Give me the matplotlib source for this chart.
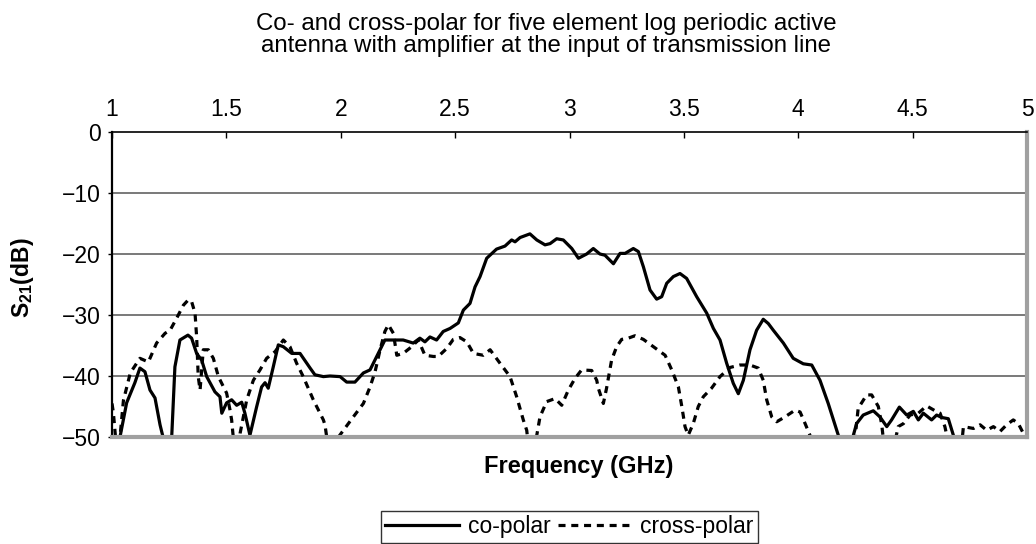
import matplotlib
matplotlib.use("Agg")
import matplotlib.pyplot as plt

plt.rcParams['font.family'] = ['Liberation Sans', 'DejaVu Sans']
plt.rcParams['mathtext.fontset'] = 'custom'
plt.rcParams['mathtext.rm'] = 'Liberation Sans'
plt.rcParams['mathtext.bf'] = 'Liberation Sans:bold'

# co-polar (solid), values below -50 are clipped
co_f = [1.03, 1.035, 1.064, 1.10, 1.122, 1.144, 1.166, 1.188, 1.21, 1.223, 1.23,
        1.255, 1.261, 1.275, 1.297, 1.332, 1.348, 1.37, 1.392, 1.414, 1.45, 1.472, 1.48,
        1.501, 1.523, 1.545, 1.567, 1.581, 1.603, 1.632, 1.654, 1.669, 1.683, 1.705,
        1.727, 1.749, 1.786, 1.822, 1.866, 1.887, 1.924, 1.953, 1.997, 2.026, 2.062,
        2.099, 2.128, 2.157, 2.193, 2.23, 2.273, 2.317, 2.346, 2.368, 2.39, 2.419,
        2.448, 2.478, 2.514, 2.536, 2.565, 2.587, 2.609, 2.638, 2.681, 2.718, 2.747,
        2.762, 2.784, 2.827, 2.857, 2.893, 2.915, 2.944, 2.973, 3.01, 3.039, 3.075,
        3.104, 3.133, 3.155, 3.192, 3.221, 3.243, 3.279, 3.301, 3.323, 3.352, 3.381,
        3.403, 3.425, 3.454, 3.483, 3.512, 3.556, 3.6, 3.629, 3.658, 3.687, 3.716,
        3.738, 3.76, 3.789, 3.818, 3.847, 3.869, 3.891, 3.935, 3.978, 4.022, 4.059,
        4.095, 4.131, 4.175, 4.185, 4.235, 4.241, 4.255, 4.284, 4.328, 4.357, 4.387,
        4.408, 4.442, 4.474, 4.503, 4.525, 4.547, 4.583, 4.605, 4.627, 4.656, 4.678,
        4.685]
co_db = [-53, -50, -44.4, -41.1, -38.7, -39.3, -42.3, -43.6, -48, -50, -53,
         -53, -50, -38.5, -34.1, -33.3, -33.8, -36.3, -37.4, -40.1, -42.6, -43.4, -46.1,
         -44.4, -43.9, -44.8, -44.3, -46.1, -49.7, -45.1, -41.8, -41.1, -42, -38.5,
         -34.9, -35.2, -36.3, -36.3, -38.7, -39.8, -40.1, -40, -40.1, -41, -41,
         -39.5, -39, -36.8, -34.1, -34.1, -34.1, -34.6, -33.8, -34.4, -33.6, -34.1,
         -32.7, -32.2, -31.3, -29.2, -28.1, -25.4, -23.7, -20.7, -19.2, -18.7, -17.7,
         -18, -17.3, -16.7, -17.7, -18.5, -18.3, -17.5, -17.7, -19.1, -20.7, -20,
         -19.1, -20, -20.2, -21.6, -19.9, -19.9, -19.1, -19.6, -22.1, -25.9, -27.4,
         -27, -24.8, -23.7, -23.2, -24, -27, -29.7, -32.2, -34.1, -37.9, -41.2,
         -42.9, -40.7, -35.7, -32.5, -30.7, -31.4, -32.5, -34.6, -37.1, -38, -38.2,
         -40.7, -44.5, -49.7, -53, -53, -49.7, -47.8, -46.4, -45.7, -46.7, -48.3,
         -47.2, -45.1, -46.4, -45.8, -47.2, -46.1, -47.2, -46.4, -46.8, -47, -49.7,
         -53]

# cross-polar (dashed)
cx_f = [1.0, 1.006, 1.02, 1.035, 1.05, 1.08, 1.122, 1.159, 1.195, 1.232, 1.254,
        1.283, 1.312, 1.334, 1.348, 1.363, 1.37, 1.377, 1.385, 1.392, 1.399, 1.421,
        1.443, 1.465, 1.501, 1.516, 1.523, 1.53, 1.54, 1.55, 1.56, 1.589, 1.618,
        1.647, 1.676, 1.713, 1.749, 1.778, 1.807, 1.836, 1.88, 1.924, 1.931, 1.95,
        1.975, 1.99, 2.055, 2.099, 2.128, 2.15, 2.172, 2.193, 2.208, 2.23, 2.245,
        2.273, 2.31, 2.339, 2.368, 2.405, 2.426, 2.463, 2.492, 2.521, 2.551, 2.58,
        2.623, 2.653, 2.696, 2.74, 2.769, 2.798, 2.813, 2.825, 2.85, 2.857, 2.871,
        2.9, 2.937, 2.966, 2.995, 3.024, 3.053, 3.097, 3.119, 3.126, 3.148, 3.162,
        3.184, 3.206, 3.228, 3.257, 3.286, 3.323, 3.367, 3.418, 3.447, 3.476, 3.491,
        3.505, 3.519, 3.541, 3.563, 3.585, 3.621, 3.658, 3.702, 3.745, 3.789, 3.825,
        3.847, 3.862, 3.884, 3.906, 3.942, 3.986, 4.008, 4.03, 4.051, 4.06, 4.24,
        4.262, 4.299, 4.321, 4.35, 4.365, 4.38, 4.41, 4.437, 4.46, 4.489, 4.525,
        4.561, 4.598, 4.62, 4.641, 4.649, 4.655, 4.71, 4.722, 4.766, 4.795, 4.824,
        4.853, 4.882, 4.911, 4.94, 4.962, 4.984, 5.0]
cx_db = [-44.5, -46, -52, -50, -44, -39.5, -37.1, -37.7, -34.6, -33, -32.5,
         -30.5, -28.4, -27.5, -27.8, -29.7, -33.6, -40.1, -42.3, -39, -35.7, -35.7,
         -37.1, -40.1, -42.8, -45.6, -47.2, -50, -53, -53, -49.4, -43.9, -40.7,
         -39, -37.1, -36, -34.1, -35.2, -37.9, -40.1, -43.9, -47.2, -48, -53,
         -53, -50, -46.7, -44.5, -41.8, -39.3, -35.7, -32.7, -31.6, -33, -36.6,
         -36.3, -35.2, -34.1, -36.6, -36.8, -36.8, -35.5, -34, -33.7, -34.4, -36.3,
         -36.6, -35.7, -37.9, -40.1, -43.4, -47.2, -48.9, -53, -53, -49.7, -46.7,
         -44.2, -43.7, -44.8, -42.3, -40.4, -39, -39.1, -40.7, -42, -44.5, -42,
         -37.4, -35.2, -34, -33.8, -33.4, -34, -35.2, -36.6, -39, -41.8, -45,
         -48.3, -49.7, -47.8, -45, -43.4, -42, -40.1, -38.6, -38.2, -38.2, -38.7,
         -40.7, -43.9, -46.7, -47.5, -46.7, -45.6, -45.9, -47.8, -49.7, -53, -53,
         -45.3, -43.1, -43.1, -45, -48, -53, -53, -48.3, -47.8, -46.4, -46.1,
         -44.9, -45.7, -46.1, -48.3, -49.7, -53, -53, -48.3, -48.6, -48, -48.9,
         -48.3, -49.1, -48, -47.2, -47.8, -49.4, -50.5]

x_ticks = [1, 1.5, 2, 2.5, 3, 3.5, 4, 4.5, 5]
x_labels = ['1', '1.5', '2', '2.5', '3', '3.5', '4', '4.5', '5']
y_ticks = [0, -10, -20, -30, -40, -50]
y_labels = ['0', '\u221210', '\u221220', '\u221230', '\u221240', '\u221250']

FS = 16.5

fig = plt.figure(figsize=(10.36, 5.44), dpi=100)
ax = fig.add_axes([112/1036, 1 - 437/544, 915/1036, 305/544])

l1, = ax.plot(co_f, co_db, color='black', lw=2.3, solid_joinstyle='round')
l2, = ax.plot(cx_f, cx_db, color='black', lw=2.3, dashes=(2.2, 1.8))

ax.set_xlim(1, 5)
ax.set_ylim(-50, 0)
for y in [-10, -20, -30, -40]:
    ax.axhline(y, color='#6e6e6e', lw=1.3, zorder=0)

ax.xaxis.tick_top()
ax.set_xticks(x_ticks)
ax.set_xticklabels(x_labels)
ax.tick_params(axis='x', direction='in', length=4, width=1, pad=8, labelsize=FS)
ax.set_yticks(y_ticks)
ax.set_yticklabels(y_labels)
ax.tick_params(axis='y', direction='out', length=3, width=1, pad=5, labelsize=FS)

ax.spines['left'].set_color('black')
ax.spines['left'].set_linewidth(1.6)
ax.spines['top'].set_color('black')
ax.spines['top'].set_linewidth(1.2)
ax.spines['bottom'].set_color('#a0a0a0')
ax.spines['bottom'].set_linewidth(3)
ax.spines['right'].set_color('#a0a0a0')
ax.spines['right'].set_linewidth(3)

fig.text(546/1036, 1 - 35/544,
         'Co- and cross-polar for five element log periodic active\n'
         'antenna with amplifier at the input of transmission line',
         ha='center', va='center', fontsize=17.3, linespacing=1.04)
fig.text(22/1036, 1 - 278/544, r'$\mathbf{S_{21}}$(dB)', rotation=90,
         ha='center', va='center', fontsize=FS, fontweight='bold')
fig.text(579/1036, 1 - 467/544, 'Frequency (GHz)', ha='center', va='center',
         fontsize=17, fontweight='bold')

leg = fig.legend([l1, l2], ['co-polar', 'cross-polar'], loc='center',
                 bbox_to_anchor=(569.5/1036, 1 - 527/544), ncol=2, fontsize=FS,
                 frameon=True, fancybox=False, handlelength=3.2, handletextpad=0.4,
                 columnspacing=0.3, borderpad=0.2, borderaxespad=0)
leg.get_frame().set_edgecolor('black')
leg.get_frame().set_linewidth(1)

fig.savefig('out.png', dpi=100)
